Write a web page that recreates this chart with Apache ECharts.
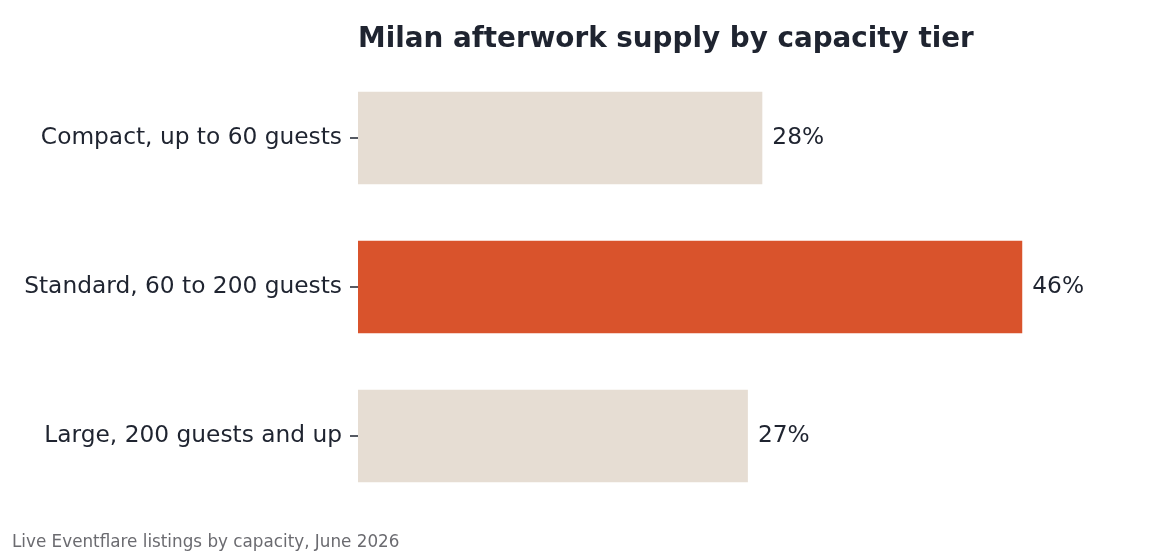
<!DOCTYPE html>
<html>
<head>
<meta charset="utf-8">
<script src="https://cdn.jsdelivr.net/npm/echarts@6/dist/echarts.min.js"></script>
<style>
  html, body { margin: 0; padding: 0; background: #fff; }
  #main { width: 1152px; height: 553px; }
</style>
</head>
<body>
<div id="main"></div>
<script>
// 数据
const categories = ['Compact, up to 60 guests', 'Standard, 60 to 200 guests', 'Large, 200 guests and up'];
const shares = [28, 46, 27];
const highlight = [false, true, false];

const textColor = '#1f2430';
const baseColor = '#e6ddd3';
const accentColor = '#d9532c';

const chart = echarts.init(document.getElementById('main'));

const option = {
    backgroundColor: '#ffffff',
    animation: false,
    title: {
        text: 'Milan afterwork supply by capacity tier',
        left: 353,
        top: 21,
        textStyle: {
            fontFamily: 'DejaVu Sans',
            fontSize: 27.8,
            fontWeight: 'bold',
            color: textColor
        }
    },
    graphic: [{
        type: 'text',
        left: 12,
        top: 534,
        style: {
            text: 'Live Eventflare listings by capacity, June 2026',
            font: '16.8px "DejaVu Sans"',
            fill: '#6b6b70'
        }
    }],
    grid: {
        left: 358,
        right: 72,
        top: 63.5,
        bottom: 42.5,
        containLabel: false
    },
    xAxis: {
        type: 'value',
        min: 0,
        max: 50,
        show: false
    },
    yAxis: {
        type: 'category',
        data: categories,
        inverse: true,
        axisLine: { show: false },
        axisTick: {
            show: true,
            length: 8,
            alignWithLabel: true,
            lineStyle: { color: textColor, width: 1.5 }
        },
        axisLabel: {
            margin: 16,
            padding: [4, 0, 0, 0],
            fontFamily: 'DejaVu Sans',
            fontSize: 23.3,
            color: textColor
        },
        splitLine: { show: false }
    },
    series: [{
        type: 'bar',
        barWidth: '62%',
        data: shares.map((v, i) => ({
            value: v,
            itemStyle: { color: highlight[i] ? accentColor : baseColor }
        })),
        label: {
            show: true,
            position: 'right',
            distance: 10,
            padding: [2, 0, 0, 0],
            formatter: '{c}%',
            fontFamily: 'DejaVu Sans',
            fontSize: 23.3,
            color: textColor
        }
    }]
};

option && chart.setOption(option);
</script>
</body>
</html>
